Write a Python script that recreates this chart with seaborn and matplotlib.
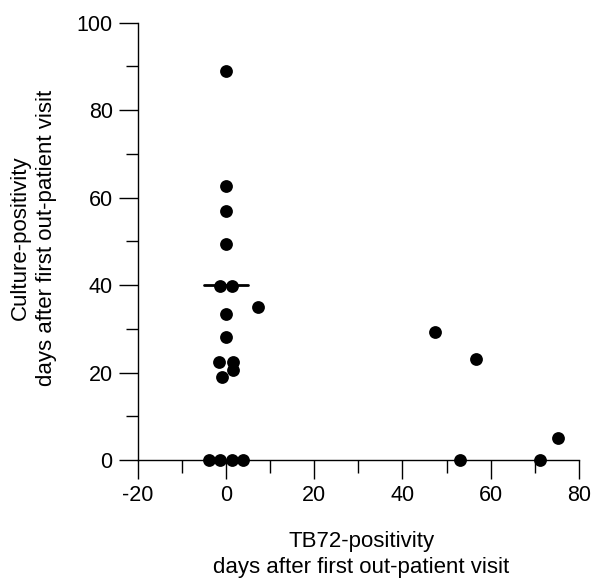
import matplotlib
matplotlib.use("Agg")
import matplotlib.pyplot as plt
import seaborn as sns
import pandas as pd
from matplotlib.ticker import MultipleLocator

# TB72-positivity (days) and culture-positivity (days)
tb72_days = [0.0, 0.0, 0.0, 0.0, -1.3, 1.4, 7.2, 0.0, 0.0, -1.5, 1.5, 1.5, -0.9,
             -3.8, -1.4, 1.4, 3.8, 47.4, 56.6, 75.2, 53.0, 71.2]
culture_days = [89.0, 62.7, 56.9, 49.3, 39.9, 39.9, 34.9, 33.4, 28.1, 22.3, 22.5, 20.6, 19.0,
                0.0, 0.0, 0.0, 0.0, 29.2, 23.0, 5.0, 0.0, 0.0]
median_culture = 40.0
median_span = [-5.0, 5.0]

x_ticks = [-20, 0, 20, 40, 60, 80]
y_ticks = [0, 20, 40, 60, 80, 100]

df = pd.DataFrame({"tb72": tb72_days, "culture": culture_days})

sns.set_style("ticks")
plt.rcParams["font.family"] = ["Liberation Sans", "DejaVu Sans"]
plt.rcParams["text.color"] = "black"
plt.rcParams["axes.labelcolor"] = "black"
plt.rcParams["xtick.color"] = "black"
plt.rcParams["ytick.color"] = "black"

fig = plt.figure(figsize=(5.95, 5.83), dpi=100)
ax = fig.add_axes([0.2314, 0.211, 0.9731 - 0.2314, 0.961 - 0.211])

sns.scatterplot(data=df, x="tb72", y="culture", ax=ax, color="black", s=85,
                edgecolor="black", linewidth=0, clip_on=False, zorder=3)
sns.lineplot(x=median_span, y=[median_culture, median_culture], ax=ax,
             color="black", linewidth=2.0, zorder=4)

ax.set_xlim(-20, 80)
ax.set_ylim(0, 100)
ax.set_xticks(x_ticks)
ax.set_yticks(y_ticks)
ax.set_xticklabels([str(t) for t in x_ticks])
ax.set_yticklabels([str(t) for t in y_ticks])
ax.xaxis.set_minor_locator(MultipleLocator(10))
ax.yaxis.set_minor_locator(MultipleLocator(10))
ax.tick_params(which="major", length=14, width=1.0, labelsize=15.5, pad=4,
               color="black", labelcolor="black")
ax.tick_params(which="minor", length=9, width=1.0, color="black")
sns.despine(ax=ax)
for s in ["left", "bottom"]:
    ax.spines[s].set_linewidth(1.0)
    ax.spines[s].set_color("black")

ax.set_xlabel("TB72-positivity\ndays after first out-patient visit", fontsize=16,
              linespacing=1.3, color="black")
ax.set_ylabel("Culture-positivity\ndays after first out-patient visit", fontsize=16,
              linespacing=1.3, color="black")
ax.xaxis.set_label_coords(0.507, -0.163)
ax.yaxis.set_label_coords(-0.183, 0.508)

fig.savefig("out.png", dpi=100)
